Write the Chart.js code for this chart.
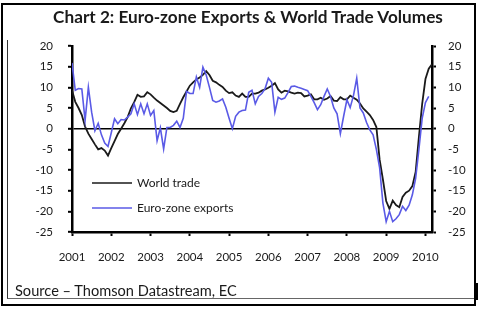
<!DOCTYPE html>
<html>
<head>
<meta charset="utf-8">
<script src="https://cdn.jsdelivr.net/npm/chart.js@4.4.1/dist/chart.umd.min.js"></script>
<style>
html, body { margin: 0; padding: 0; background: #fff; }
#wrap { position: relative; width: 482px; height: 322px; overflow: hidden; font-family: Lato, sans-serif; color: #1a1a1a; }
#outer { position: absolute; left: 1px; top: 3px; width: 475px; height: 303px; border: 2px solid #000; box-sizing: border-box; }
#inner { position: absolute; left: 7px; top: 40px; width: 467px; height: 259px; border-left: 1px solid #333; border-bottom: 1.5px solid #666; box-sizing: border-box; }
#nub { position: absolute; left: 475px; top: 283px; width: 3px; height: 17px; background: #000; }
#title { position: absolute; left: 0; top: 8px; width: 496px; text-align: center; font-weight: bold; font-size: 17.2px; line-height: 17px; }
#source { position: absolute; left: 15px; top: 284px; font-size: 14.6px; line-height: 14px; }
canvas { position: absolute; left: 0; top: 0; }
</style>
</head>
<body>
<div id="wrap">
  <div id="outer"></div>
  <div id="inner"></div>
  <div id="nub"></div>
  <canvas id="chart2" width="482" height="322"></canvas>
  <div id="title">Chart 2: Euro-zone Exports &amp; World Trade Volumes</div>
  <div id="source">Source – Thomson Datastream, EC</div>
</div>
<script>
// monthly, % y/y, starting Jan 2001
var yearLabels = ['2001','2002','2003','2004','2005','2006','2007','2008','2009','2010'];

var worldTrade = [
  9.3, 6.5, 5.0, 3.3, 0.5, -1.2, -2.5, -3.8, -5.0, -4.7, -5.3, -6.5,
  -4.7, -3.0, -1.3, 0.0, 1.3, 2.8, 4.9, 6.4, 8.2, 7.7, 7.8, 8.8,
  8.3, 7.5, 6.8, 6.2, 5.6, 5.0, 4.3, 4.0, 4.3, 6.0, 7.6, 9.0,
  10.4, 11.2, 11.9, 12.4, 13.0, 13.9, 13.0, 11.6, 11.2, 10.6, 10.1, 9.2,
  8.6, 8.8, 8.0, 7.7, 8.5, 7.7, 7.7, 8.5, 8.5, 8.7, 9.2, 9.5,
  9.9, 10.4, 11.0, 9.5, 8.7, 9.2, 9.0, 8.7, 8.5, 8.7, 8.6, 7.8,
  8.0, 8.3, 7.1, 7.1, 7.5, 7.0, 7.3, 7.9, 6.8, 6.7, 7.6, 7.1,
  7.1, 8.0, 7.5, 7.0, 6.1, 4.9, 4.1, 3.3, 2.1, 0.4, -7.5, -12.3,
  -17.5, -19.4, -17.4, -18.5, -19.0, -16.5, -15.5, -15.0, -13.9, -10.5, -2.0, 6.0,
  12.0, 14.5, 15.6
];

var euroExports = [
  15.9, 9.3, 9.7, 9.6, 2.0, 10.0, 4.0, -0.5, 1.3, -1.5, -3.5, -4.3,
  -1.0, 2.4, 1.2, 2.2, 2.1, 2.8, 3.6, 6.0, 3.4, 6.0, 3.6, 6.0,
  3.2, 4.4, -2.9, 0.2, -4.9, 0.3, 0.3, 0.8, 1.8, 0.3, 2.5, 9.0,
  8.5, 8.5, 12.5, 10.0, 14.9, 13.0, 10.0, 6.8, 6.4, 6.7, 7.2, 5.2,
  2.5, 0.0, 3.0, 4.0, 4.4, 4.5, 8.8, 9.3, 6.0, 7.8, 8.5, 9.7,
  12.2, 11.2, 4.0, 7.6, 7.1, 7.4, 8.7, 10.2, 10.3, 10.0, 9.8, 9.5,
  9.2, 7.8, 6.3, 4.6, 5.8, 7.8, 9.6, 7.8, 5.0, 3.6, -1.2, 3.0,
  7.0, 5.1, 8.0, 12.2, 5.0, 3.8, 1.5, -0.3, -1.5, -5.0, -9.5, -18.0,
  -22.5, -20.0, -22.5, -21.8, -20.8, -18.8, -19.8, -18.5, -16.0, -12.0, -5.0, 2.5,
  6.3, 7.8
];

var seriesNames = ['World trade', 'Euro-zone exports'];
var seriesColors = ['#1a1a1a', '#5a5ae6'];

function toPoints(arr) {
    return arr.map(function (v, i) { return {x: i, y: v}; });
}

var fontFamily = 'Lato, sans-serif';

// legend drawn inside the plot, like the original
var innerLegend = {
    id: 'innerLegend',
    afterDraw: function (chart) {
        var ctx = chart.ctx;
        var rows = [183, 208];
        ctx.save();
        ctx.font = '12px ' + fontFamily;
        ctx.textBaseline = 'middle';
        chart.data.datasets.forEach(function (ds, i) {
            var y = rows[i];
            ctx.strokeStyle = ds.borderColor;
            ctx.lineWidth = 1.6;
            ctx.beginPath();
            ctx.moveTo(92, y);
            ctx.lineTo(132, y);
            ctx.stroke();
            ctx.fillStyle = '#1a1a1a';
            ctx.fillText(ds.label, 137, y);
        });
        ctx.restore();
    }
};

var ctx2 = document.getElementById('chart2').getContext('2d');
var chart2 = new Chart(ctx2, {
    type: 'line',
    data: {
        datasets: [{
            label: seriesNames[0],
            data: toPoints(worldTrade),
            borderColor: seriesColors[0],
            borderWidth: 1.8,
            order: 1
        }, {
            label: seriesNames[1],
            data: toPoints(euroExports),
            borderColor: seriesColors[1],
            borderWidth: 1.6,
            order: 0
        }]
    },
    options: {
        responsive: false,
        animation: false,
        devicePixelRatio: 1,
        elements: { point: { radius: 0 }, line: { tension: 0 } },
        layout: { padding: { left: 10, right: 6, top: 46, bottom: 40 } },
        plugins: { legend: { display: false }, tooltip: { enabled: false }, title: { display: false } },
        scales: {
            x: {
                type: 'linear',
                min: 0,
                max: worldTrade.length - 1,
                afterBuildTicks: function (s) {
                    s.ticks = yearLabels.map(function (l, i) { return {value: i * 12}; });
                },
                afterFit: function (s) { s.height = 50; },
                ticks: {
                    callback: function (v) { return yearLabels[Math.round(v / 12)]; },
                    maxRotation: 0,
                    autoSkip: false,
                    padding: 14,
                    color: '#1a1a1a',
                    font: { family: fontFamily, size: 11.5 }
                },
                grid: { drawOnChartArea: false, drawTicks: true, tickLength: 4, tickColor: '#000', tickWidth: 2 },
                border: { display: true, color: '#000', width: 2.5 }
            },
            y: {
                position: 'left',
                min: -25,
                max: 20,
                afterFit: function (s) { s.width = 62; },
                ticks: { stepSize: 5, padding: 15, color: '#1a1a1a', font: { family: fontFamily, size: 11.5 } },
                grid: {
                    drawOnChartArea: true,
                    color: function (c) { return c.tick && c.tick.value === 0 ? '#000' : 'rgba(0,0,0,0)'; },
                    lineWidth: 1.6,
                    tickLength: 4, tickColor: '#000', tickWidth: 2
                },
                border: { display: true, color: '#000', width: 2.5 }
            },
            y2: {
                position: 'right',
                min: -25,
                max: 20,
                afterFit: function (s) { s.width = 44; },
                ticks: { stepSize: 5, padding: 12, color: '#1a1a1a', font: { family: fontFamily, size: 11.5 } },
                grid: { drawOnChartArea: false, tickLength: 4, tickColor: '#000', tickWidth: 2 },
                border: { display: true, color: '#000', width: 2.5 }
            }
        }
    },
    plugins: [innerLegend]
});
</script>
</body>
</html>
